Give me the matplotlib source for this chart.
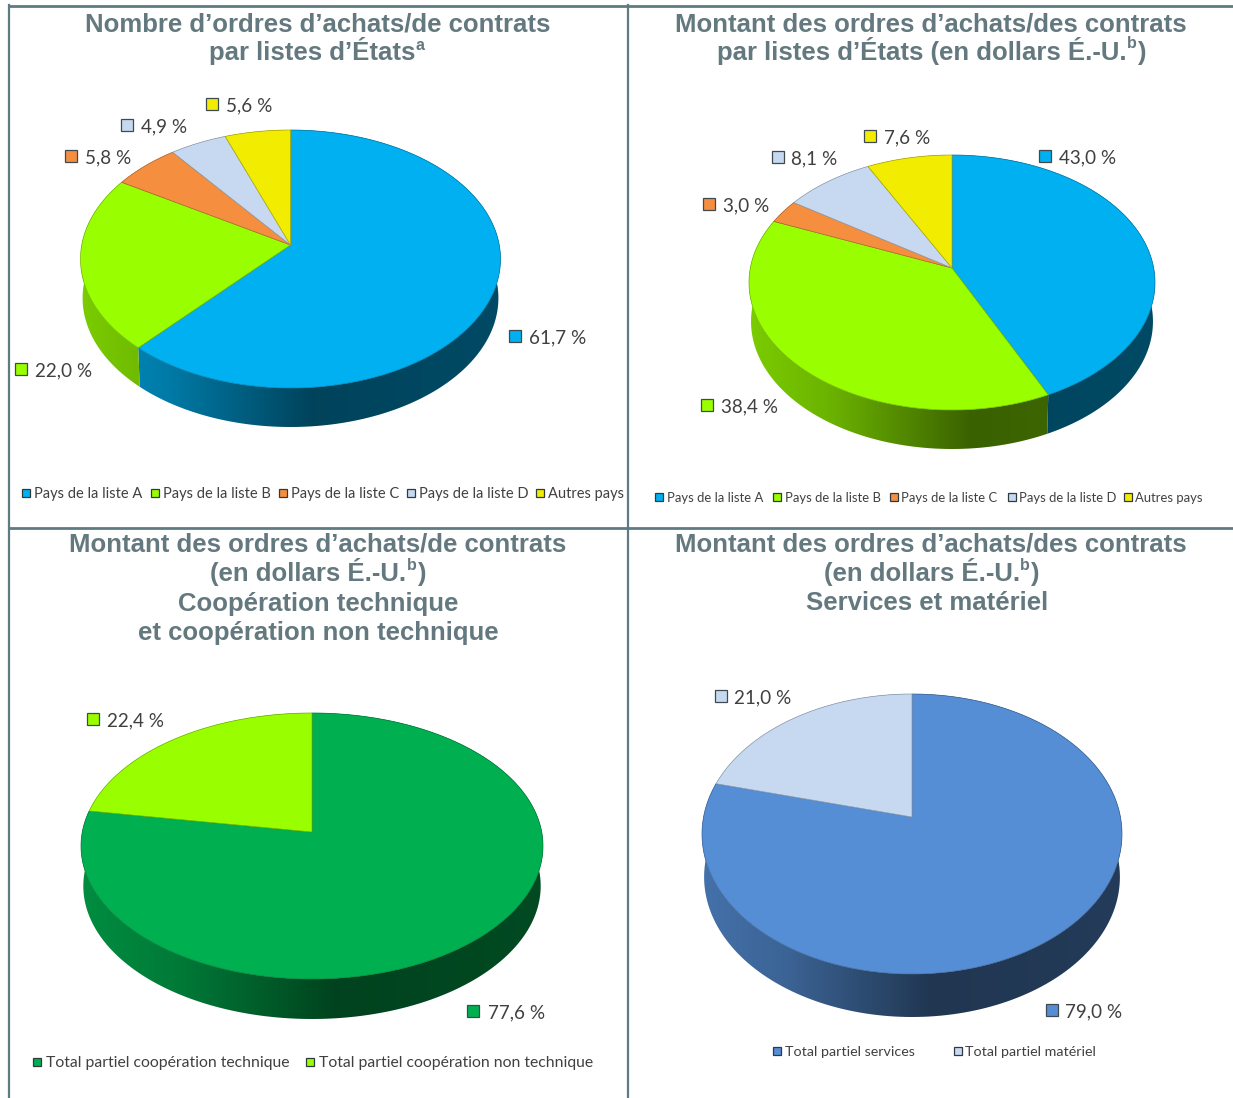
import matplotlib
matplotlib.use('Agg')
import matplotlib.pyplot as plt
import numpy as np
from matplotlib.colors import LinearSegmentedColormap, to_rgb
from matplotlib.patches import Polygon

# values
etats_nombre = [61.7, 22.0, 5.8, 4.9, 5.6]
etats_montant = [43.0, 38.4, 3.0, 8.1, 7.6]
cooperation = [77.6, 22.4]
services = [79.0, 21.0]

noms_etats = ['Pays de la liste A', 'Pays de la liste B', 'Pays de la liste C', 'Pays de la liste D', 'Autres pays']
noms_cooperation = ['Total partiel coopération technique', 'Total partiel coopération non technique']
noms_services = ['Total partiel services', 'Total partiel matériel']

couleurs_etats = ['#00B0F0', '#99FF00', '#F58F3F', '#C6D9F1', '#F2EC00']
couleurs_cooperation = ['#00B050', '#99FF00']
couleurs_services = ['#558ED5', '#C6D9F1']

LIGNE = '#5E7B82'
TITRE = '#64797F'
TEXTE = '#404040'
POLICE = 'Lato'

W, H = 1233, 1098
fig = plt.figure(figsize=(W / 100, H / 100), dpi=100)
ax = fig.add_axes([0, 0, 1, 1])
ax.set_xlim(0, W)
ax.set_ylim(H, 0)
ax.axis('off')


def foncer(c, f):
    return tuple(np.array(to_rgb(c)) * f)


def bord(theta, cx, cy, a, b, k):
    # perspective of the pie's circle, theta clockwise from the top
    u, v = np.sin(theta), np.cos(theta)
    return cx + b * u / (1 + k * v), cy - a * v / (1 + k * v)


def camembert(valeurs, couleurs, cx, cy, rx, haut, bas, prof):
    k = (bas - haut) / (bas + haut)
    a = haut * (1 + k)
    b = rx * np.sqrt(1 - k ** 2)
    bornes = np.concatenate(([0], np.cumsum(valeurs))) / np.sum(valeurs) * 2 * np.pi

    # sides first, the tops cover what is hidden
    for i, c in enumerate(couleurs):
        t = np.linspace(bornes[i], bornes[i + 1], 200)
        x, y = bord(t, cx, cy, a, b, k)
        x2 = cx + (x - cx) * 0.99
        y2 = y + prof
        pts = np.column_stack((np.r_[x, x2[::-1]], np.r_[y, y2[::-1]]))
        cmap = LinearSegmentedColormap.from_list('c', [
            (0.0, foncer(c, 0.8)), (0.2, foncer(c, 0.7)), (0.42, foncer(c, 0.5)),
            (0.55, foncer(c, 0.38)), (1.0, foncer(c, 0.42))])
        im = ax.imshow(np.linspace(0, 1, 256)[None, :], cmap=cmap, aspect='auto',
                       extent=(cx - rx, cx + rx, cy + bas + prof + 2, cy - haut), zorder=2)
        poly = Polygon(pts, closed=True, transform=ax.transData, fc='none', ec='none')
        ax.add_patch(poly)
        im.set_clip_path(poly)

    for i, c in enumerate(couleurs):
        t = np.linspace(bornes[i], bornes[i + 1], 200)
        x, y = bord(t, cx, cy, a, b, k)
        ax.fill(np.r_[cx, x], np.r_[cy, y], fc=c, ec=foncer(c, 0.72), lw=0.5, zorder=3)
    ax.set_xlim(0, W)
    ax.set_ylim(H, 0)


def etiquettes(valeurs, couleurs, positions):
    for v, c, (mx, my, tx) in zip(valeurs, couleurs, positions):
        ax.plot(mx, my, 's', ms=8.4, mfc=c, mec='#3f4a50', mew=0.9, zorder=5)
        ax.text(tx, my + 2, f'{v:.1f}'.replace('.', ',') + ' %', fontsize=13.6, family=POLICE,
                color=TEXTE, va='center', ha='left', zorder=5)


def legende(noms, couleurs, y, marques, textes, taille):
    for n, c, mx, tx in zip(noms, couleurs, marques, textes):
        ax.plot(mx, y, 's', ms=6.4, mfc=c, mec='#2f3a40', mew=0.9, zorder=5)
        ax.text(tx, y + 1, n, fontsize=taille, family=POLICE, color=TEXTE, va='center', ha='left', zorder=5)


def titre(x, y, s, ha='center'):
    ax.text(x, y + 8, s, fontsize=18.5, fontweight='bold', family='Liberation Sans', color=TITRE,
            ha=ha, va='baseline', zorder=5)


def expo(x, y, s):
    ax.text(x, y, s, fontsize=11.5, fontweight='bold', family='Liberation Sans', color=TITRE,
            ha='left', va='center', zorder=5)


# table lines
for x in (9, 628):
    ax.plot([x, x], [5, H], color=LIGNE, lw=1.6, zorder=6)
for y in (6, 527.5):
    ax.plot([9, W], [y, y], color=LIGNE, lw=2.0, zorder=6)

# panel 1
camembert(etats_nombre, couleurs_etats, 290.5, 245, 210, 115, 143, 39)
etiquettes(etats_nombre, couleurs_etats,
           [(515, 336, 529), (21, 369, 35), (71, 156, 85), (127, 125, 141), (212, 104, 226)])
legende(noms_etats, couleurs_etats, 493, [26, 155, 283, 411, 540], [34, 163, 291, 419, 548], 10.5)
titre(318, 23, 'Nombre d’ordres d’achats/de contrats')
titre(415, 52, 'par listes d’États', ha='right')
expo(416, 45, 'a')

# panel 2
camembert(etats_montant, couleurs_etats, 952, 268, 203, 113, 142, 39)
etiquettes(etats_montant, couleurs_etats,
           [(1045, 156, 1059), (707, 405, 721), (709, 204, 723), (778, 157, 791), (870, 136, 884)])
legende(noms_etats, couleurs_etats, 497, [659, 777, 894, 1012, 1128], [667, 785, 901, 1019, 1135], 9.4)
titre(931, 23, 'Montant des ordres d’achats/des contrats')
titre(1127, 52, 'par listes d’États (en dollars É.-U.', ha='right')
expo(1127, 43, 'b')
titre(1137, 52, ')', ha='left')

# panel 3
camembert(cooperation, couleurs_cooperation, 312, 832, 231, 119, 147, 40)
etiquettes(cooperation, couleurs_cooperation, [(473, 1011, 488), (93, 719, 107)])
legende(noms_cooperation, couleurs_cooperation, 1062, [37, 310], [46, 319], 11.3)
titre(318, 544, 'Montant des ordres d’achats/de contrats')
titre(406, 573, '(en dollars É.-U.', ha='right')
expo(407, 565, 'b')
titre(417, 573, ')', ha='left')
titre(318, 603, 'Coopération technique')
titre(318, 632, 'et coopération non technique')

# panel 4
camembert(services, couleurs_services, 912, 817, 210, 123, 157, 43)
etiquettes(services, couleurs_services, [(1052, 1010, 1065), (721, 696, 734)])
legende(noms_services, couleurs_services, 1051, [777, 958], [785, 965], 10.3)
titre(931, 544, 'Montant des ordres d’achats/des contrats')
titre(1020, 573, '(en dollars É.-U.', ha='right')
expo(1020, 565, 'b')
titre(1030, 573, ')', ha='left')
titre(927, 602, 'Services et matériel')

fig.savefig('out.png', dpi=100, facecolor='white')
